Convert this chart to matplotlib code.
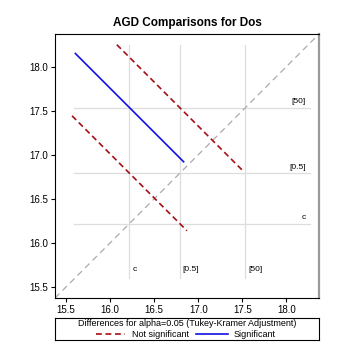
"""Diffogram of AGD least-squares means by dose (Tukey-Kramer)."""

import matplotlib

matplotlib.use("Agg")
import matplotlib.pyplot as plt
from matplotlib.lines import Line2D

plt.rcParams.update({"font.family": ["Liberation Sans", "DejaVu Sans"], "font.size": 7})

# LS-means per dose level
levels = ["c", "[0.5]", "[50]"]
means = [16.22, 16.79, 17.535]

# pairwise comparisons: (x level, y level, CI half-width on x, significant)
pair_x = [0, 0, 1]
pair_y = [1, 2, 2]
half_width = [0.652, 0.614, 0.714]
significant = [False, True, False]

lo, hi = 15.375, 18.37
RED = "#a50f15"
BLUE = "#1010e0"

fig = plt.figure(figsize=(3.6, 3.58), dpi=100)
ax = fig.add_axes([0.1528, 0.1676, 0.7333, 0.7374])

# reference grid at each mean
for m, name in zip(means, levels):
    ax.plot([m, m], [15.60, 18.25], color="#dddddd", lw=0.9, zorder=1)
    ax.plot([15.595, 18.27], [m, m], color="#dddddd", lw=0.9, zorder=1)
    ax.text(m + 0.03, 15.66, name, fontsize=6, ha="left", va="bottom")
    ax.text(18.22, m + 0.03, name, fontsize=6, ha="right", va="bottom")

ax.plot([lo, hi], [lo, hi], color="#aaaaaa", lw=0.9, dashes=(5, 3.5), zorder=2)

for i, j, h, sig in zip(pair_x, pair_y, half_width, significant):
    xs = [means[i] - h, means[i] + h]
    ys = [means[j] + h, means[j] - h]
    if sig:
        ax.plot(xs, ys, color=BLUE, lw=1.2, zorder=3)
    else:
        ax.plot(xs, ys, color=RED, lw=1.2, dashes=(3.5, 2.2), zorder=3)

ax.set_xlim(lo, hi)
ax.set_ylim(lo, hi)
ticks = [15.5, 16.0, 16.5, 17.0, 17.5, 18.0]
ax.set_xticks(ticks)
ax.set_yticks(ticks)
ax.set_xticklabels([f"{t:.1f}" for t in ticks])
ax.set_yticklabels([f"{t:.1f}" for t in ticks])
ax.tick_params(labelsize=7, length=3, width=0.8, pad=2)
ax.spines["right"].set_color("#999999")
ax.spines["right"].set_linewidth(1.6)
ax.set_title("AGD Comparisons for Dos", fontsize=8.5, fontweight="bold", pad=6)

# legend box below the plot
lax = fig.add_axes([0.1528, 0.0503, 0.7333, 0.0615])
lax.set_xticks([])
lax.set_yticks([])
lax.set_xlim(0, 1)
lax.set_ylim(0, 1)
lax.text(0.5, 0.73, "Differences for alpha=0.05 (Tukey-Kramer Adjustment)",
         ha="center", va="center", fontsize=6.5)
lax.add_line(Line2D([0.155, 0.265], [0.25, 0.25], color=RED, lw=1.2, dashes=(3.5, 2.2)))
lax.text(0.29, 0.25, "Not significant", ha="left", va="center", fontsize=6.5)
lax.add_line(Line2D([0.535, 0.655], [0.25, 0.25], color=BLUE, lw=1.2))
lax.text(0.675, 0.25, "Significant", ha="left", va="center", fontsize=6.5)

fig.savefig("out.png", dpi=100)
